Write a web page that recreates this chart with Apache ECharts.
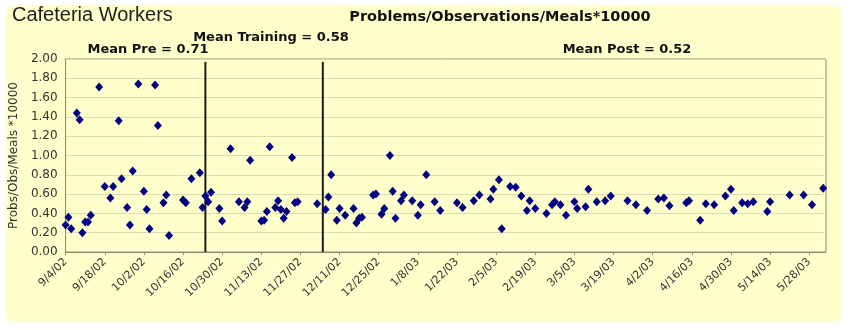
<!DOCTYPE html>
<html>
<head>
<meta charset="utf-8">
<script src="https://cdn.jsdelivr.net/npm/echarts@6/dist/echarts.min.js"></script>
<style>
  html, body { margin: 0; padding: 0; background: #ffffff; }
  #chart { width: 850px; height: 330px; }
</style>
</head>
<body>
<div id="chart"></div>
<script>
// Observation days, counted from 9/4/02 (day 0)
const dayOffsets = [
  0, 1, 2, 4, 5, 6, 7, 8, 9, 12, 14, 16, 17, 19, 20, 22, 23, 24, 26, 28,
  29, 30, 32, 33, 35, 36, 37, 42, 43, 45, 48, 49, 50, 51, 52, 55, 56, 59, 62, 64,
  65, 66, 70, 71, 72, 73, 75, 76, 77, 78, 79, 81, 82, 83, 90, 93, 94, 95, 97, 98,
  100, 103, 104, 105, 106, 110, 111, 113, 114, 116, 117, 118, 120, 121, 124, 126, 127, 129, 132, 134,
  140, 142, 146, 148, 152, 153, 155, 156, 159, 161, 163, 165, 166, 168, 172, 174, 175, 177, 179, 182,
  183, 186, 187, 190, 193, 195, 201, 204, 208, 212, 214, 216, 222, 223, 227, 229, 232, 236, 238, 239,
  242, 244, 246, 251, 252, 259, 264, 267, 271
];

// Problems / observations / meals * 10000 on each observation day
const rates = [
  0.28, 0.36, 0.24, 1.44, 1.37, 0.20, 0.31, 0.31, 0.38, 1.71, 0.68, 0.56, 0.68, 1.36, 0.76, 0.46, 0.28, 0.84, 1.74, 0.63,
  0.44, 0.24, 1.73, 1.31, 0.51, 0.59, 0.17, 0.54, 0.51, 0.76, 0.82, 0.46, 0.58, 0.52, 0.62, 0.45, 0.32, 1.07, 0.52, 0.46,
  0.52, 0.95, 0.32, 0.33, 0.42, 1.09, 0.46, 0.53, 0.44, 0.35, 0.42, 0.98, 0.51, 0.52, 0.50, 0.44, 0.57, 0.80, 0.33, 0.45,
  0.38, 0.45, 0.30, 0.35, 0.36, 0.59, 0.60, 0.39, 0.45, 1.00, 0.63, 0.35, 0.53, 0.59, 0.53, 0.38, 0.49, 0.80, 0.52, 0.43,
  0.51, 0.46, 0.53, 0.59, 0.55, 0.65, 0.75, 0.24, 0.68, 0.67, 0.58, 0.43, 0.53, 0.45, 0.40, 0.49, 0.52, 0.49, 0.38, 0.52,
  0.45, 0.47, 0.65, 0.52, 0.53, 0.58, 0.53, 0.49, 0.43, 0.55, 0.56, 0.48, 0.51, 0.53, 0.33, 0.50, 0.49, 0.58, 0.65, 0.43,
  0.51, 0.50, 0.52, 0.42, 0.52, 0.59, 0.59, 0.49, 0.66
];

// Date axis labels, one every 14 days
const dateTicks = [
  '9/4/02', '9/18/02', '10/2/02', '10/16/02', '10/30/02', '11/13/02', '11/27/02',
  '12/11/02', '12/25/02', '1/8/03', '1/22/03', '2/5/03', '2/19/03', '3/5/03',
  '3/19/03', '4/2/03', '4/16/03', '4/30/03', '5/14/03', '5/28/03'
];
const tickStepDays = 14;
const axisEndDay = 272;

// Phase boundaries (start of training, start of post phase)
const phaseBoundaryDays = [50, 92];
const phaseLineTop = 1.97;

// Phase means
const phaseMeans = [
  { name: 'Mean Pre', value: 0.71 },
  { name: 'Mean Training', value: 0.58 },
  { name: 'Mean Post', value: 0.52 }
];

const points = dayOffsets.map((d, i) => [d, rates[i]]);

const boundarySeries = phaseBoundaryDays.map(d => ({
  type: 'line',
  data: [[d, 0], [d, phaseLineTop]],
  symbol: 'none',
  lineStyle: { color: '#1a1a1a', width: 2 },
  silent: true,
  z: 3
}));

const labelFont = 'DejaVu Sans';
const meanText = (m) => m.name + ' = ' + m.value.toFixed(2);

const chart = echarts.init(document.getElementById('chart'), null, { renderer: 'canvas' });
chart.setOption({
  backgroundColor: '#ffffff',
  animation: false,
  graphic: [{
    type: 'rect',
    left: 5, top: 5,
    shape: { width: 837, height: 317, r: 9 },
    style: { fill: '#FFFFCC' },
    silent: true,
    z: -100
  }],
  title: [
    { text: 'Cafeteria Workers', left: 12, top: 5, padding: 0,
      textStyle: { fontFamily: 'Liberation Sans', fontSize: 20, fontWeight: 'normal', color: '#1e1e1e' } },
    { text: 'Problems/Observations/Meals*10000', left: 500, top: 10, padding: 0, textAlign: 'center',
      textStyle: { fontFamily: labelFont, fontSize: 14.5, fontWeight: 'bold', color: '#111' } },
    { text: meanText(phaseMeans[0]), left: 148, top: 43, padding: 0, textAlign: 'center',
      textStyle: { fontFamily: labelFont, fontSize: 13, fontWeight: 'bold', color: '#111' } },
    { text: meanText(phaseMeans[1]), left: 271, top: 31, padding: 0, textAlign: 'center',
      textStyle: { fontFamily: labelFont, fontSize: 13, fontWeight: 'bold', color: '#111' } },
    { text: meanText(phaseMeans[2]), left: 627, top: 43, padding: 0, textAlign: 'center',
      textStyle: { fontFamily: labelFont, fontSize: 13, fontWeight: 'bold', color: '#111' } }
  ],
  grid: {
    left: 65, top: 59, width: 761, height: 193,
    show: true, backgroundColor: '#FFFFCC', borderColor: '#8c8c80', borderWidth: 1
  },
  xAxis: {
    type: 'value',
    min: 0, max: axisEndDay, interval: tickStepDays,
    axisLine: { show: true, lineStyle: { color: '#8c8c80', width: 1 } },
    axisTick: { show: true, length: 3, lineStyle: { color: '#8c8c80' } },
    splitLine: { show: false },
    axisLabel: {
      rotate: 45, margin: 8, showMaxLabel: false,
      fontFamily: labelFont, fontSize: 11, color: '#333',
      formatter: (v) => (v % tickStepDays === 0 ? (dateTicks[v / tickStepDays] || '') : '')
    }
  },
  yAxis: {
    type: 'value',
    min: 0, max: 2, interval: 0.2,
    name: 'Probs/Obs/Meals *10000',
    nameLocation: 'middle', nameGap: 44,
    nameTextStyle: { fontFamily: labelFont, fontSize: 12, color: '#333' },
    axisLine: { show: true, lineStyle: { color: '#8c8c80', width: 1 } },
    axisTick: { show: false },
    splitLine: { show: true, lineStyle: { color: '#dcdcb4', width: 1 } },
    axisLabel: {
      margin: 8, fontFamily: labelFont, fontSize: 12, color: '#333',
      formatter: (v) => v.toFixed(2)
    }
  },
  series: [
    {
      type: 'scatter',
      data: points,
      symbol: 'diamond',
      symbolSize: [8, 9],
      itemStyle: { color: '#000080', opacity: 1 },
      z: 4
    },
    ...boundarySeries
  ]
});
</script>
</body>
</html>
